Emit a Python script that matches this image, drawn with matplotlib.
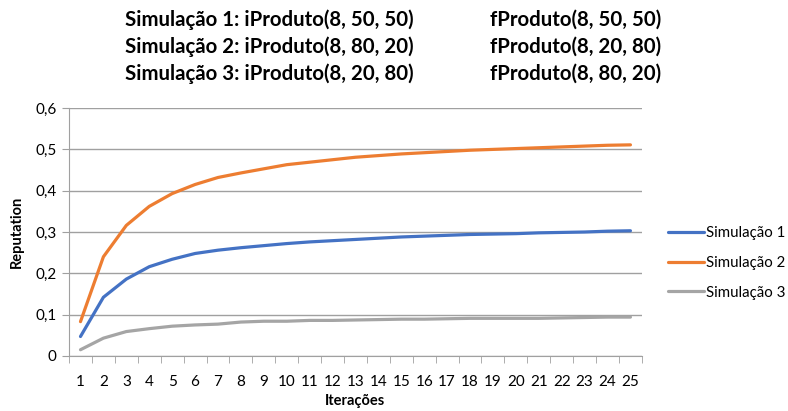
import matplotlib.pyplot as plt
import numpy as np

plt.rcParams['font.family'] = ['Lato', 'DejaVu Sans']

iteracoes = list(range(1, 26))
sim1 = [0.047, 0.142, 0.186, 0.216, 0.234, 0.248, 0.256, 0.262, 0.267, 0.272,
        0.276, 0.279, 0.282, 0.285, 0.288, 0.290, 0.292, 0.294, 0.295, 0.296,
        0.298, 0.299, 0.300, 0.302, 0.303]
sim2 = [0.083, 0.240, 0.316, 0.362, 0.393, 0.415, 0.432, 0.443, 0.453, 0.463,
        0.469, 0.475, 0.481, 0.485, 0.489, 0.492, 0.495, 0.498, 0.500, 0.502,
        0.504, 0.506, 0.508, 0.510, 0.511]
sim3 = [0.015, 0.043, 0.059, 0.066, 0.072, 0.075, 0.077, 0.082, 0.084, 0.084,
        0.086, 0.086, 0.087, 0.088, 0.089, 0.089, 0.090, 0.091, 0.091, 0.091,
        0.091, 0.092, 0.093, 0.094, 0.094]
series_names = ['Simulação 1', 'Simulação 2', 'Simulação 3']
colors = ['#4472C4', '#ED7D31', '#A5A5A5']
yticks = [0, 0.1, 0.2, 0.3, 0.4, 0.5, 0.6]

header_left = ['Simulação 1: iProduto(8, 50, 50)',
               'Simulação 2: iProduto(8, 80, 20)',
               'Simulação 3: iProduto(8, 20, 80)']
header_right = ['fProduto(8, 50, 50)',
                'fProduto(8, 20, 80)',
                'fProduto(8, 80, 20)']

fig = plt.figure(figsize=(7.88, 4.11), dpi=100)
ax = fig.add_axes([0.0876, 0.134, 0.727, 0.603])

for ys, name, c in zip([sim1, sim2, sim3], series_names, colors):
    ax.plot(iteracoes, ys, color=c, lw=2.3, label=name, solid_capstyle='round')

ax.set_xlim(0.5, 25.5)
ax.set_ylim(0, 0.6)
ax.set_yticks(yticks)
ax.set_yticklabels([f'{v:.1f}'.replace('.', ',') if v else '0' for v in yticks])
ax.set_xticks(iteracoes)
ax.set_xticks(np.arange(0.5, 26, 1), minor=True)
ax.tick_params(axis='x', which='major', length=0, pad=14, labelsize=11)
ax.tick_params(axis='x', which='minor', length=5, color='#A0A0A0')
ax.tick_params(axis='y', length=5, color='#A0A0A0', labelsize=11, pad=4)
ax.grid(axis='y', color='#A0A0A0', lw=1)
ax.set_axisbelow(True)
for s in ['top', 'right']:
    ax.spines[s].set_visible(False)
for s in ['left', 'bottom']:
    ax.spines[s].set_color('#A0A0A0')

ax.set_xlabel('Iterações', fontweight='bold', fontsize=10.5, labelpad=3)
ax.set_ylabel('Reputation', fontweight='bold', fontsize=10.5, labelpad=8)

ax.legend(loc='center left', bbox_to_anchor=(1.03, 0.375), frameon=False,
          fontsize=10.8, handlelength=2.4, handletextpad=0.15, labelspacing=1.05,
          borderaxespad=0.2)

for i, (l, r) in enumerate(zip(header_left, header_right)):
    y = 1 - (20 + 27 * i) / 411
    fig.text(125 / 788, y, l, fontsize=14.7, fontweight='bold', va='center')
    fig.text(490 / 788, y, r, fontsize=14.7, fontweight='bold', va='center')

fig.savefig('out.png', dpi=100)
